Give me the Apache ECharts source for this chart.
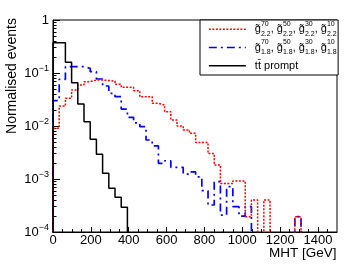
<!DOCTYPE html>
<html><head><meta charset="utf-8">
<script src="https://cdn.jsdelivr.net/npm/echarts@6/dist/echarts.min.js"></script>
<style>html,body{margin:0;padding:0;background:#fff}#c{width:355px;height:265px}</style>
</head><body><div id="c"></div>
<script>
// ---- data ----
const binWidth = 32.75;           // GeV per histogram bin
const xMin = 0, xMax = 1500, xStep = 200, xMinorStep = 50;
const yMin = 1e-4, yMax = 1;

// g~ width 2.2 (red dotted), one value per bin starting at 0 GeV
const redValues = [0.00905, 0.0238, 0.0333, 0.0478, 0.0594, 0.0685, 0.0738, 0.0738, 0.0722, 0.0706,
  0.0612, 0.0537, 0.0537, 0.0464, 0.0357, 0.0357, 0.0268, 0.0249, 0.0186, 0.0130,
  0.0100, 0.00841, 0.00728, 0.00489, 0.00489, 0.00303, 0.00184, 0.000822, 0.000822, 0.000917,
  0.000917, 0.000195, 0.000402, 0, 0.000402, 0, 0, 0, 0, 0.000195,
  0, 0, 0, 0, 0, 0];
// g~ width 1.8 (blue dash-dot)
const blueValues = [0.0300, 0.0760, 0.1315, 0.1315, 0.1315, 0.1227, 0.1058, 0.0771, 0.0568, 0.0414,
  0.0357, 0.0209, 0.0146, 0.0115, 0.0097, 0.00544, 0.0042, 0.00198, 0.00221, 0.00166,
  0.00166, 0.00124, 0.00136, 0.0011, 0.000601, 0.000323, 0.000889, 0.000209, 0.000716, 0.0003,
  0.0002, 0.0003, 0, 0, 0, 0, 0, 0, 0, 0.000195,
  0, 0, 0, 0, 0, 0];
// ttbar prompt (black solid)
const blackValues = [0.373, 0.373, 0.159, 0.0656, 0.026, 0.01205, 0.00561, 0.00292, 0.00128, 0.000668,
  0.000452, 0.000292];

const gluinoMasses = ['70', '50', '30', '10'];
const gluinoWidths = ['2.2', '1.8'];
const seriesNames = ['gluino22', 'gluino18', 'ttbar'];
const xTitle = 'MHT [GeV]';
const yTitle = 'Normalised events';

// ---- build ----
const FONT = '"Liberation Sans", Arial, Helvetica, sans-serif';
const FLOOR = 1e-6;
function histogramPoints(values) {
  const pts = [[0, FLOOR]];
  values.forEach((v, i) => pts.push([(i + 1) * binWidth, v > 0 ? v : FLOOR]));
  pts.push([values.length * binWidth, FLOOR]);
  return pts;
}
function gluinoLabel(w) {
  return '{pad| }' + gluinoMasses.map(m => '{g|g\u0303}{sup|' + m + '}{sub|' + w + '}').join('{g|, }');
}
const legendLabels = {
  gluino22: gluinoLabel(gluinoWidths[0]),
  gluino18: gluinoLabel(gluinoWidths[1]),
  ttbar: '{pad| }tt\u0304 prompt'
};
const yMinorTicks = [];
for (let d = -4; d < 0; d++) for (let m = 2; m <= 9; m++) yMinorTicks.push(+(m * Math.pow(10, d)).toPrecision(3));
const xMinorTicks = [];
for (let v = xMin + xMinorStep; v < xMax; v += xMinorStep) if (v % xStep !== 0) xMinorTicks.push(v);

const chart = echarts.init(document.getElementById('c'), null, {renderer: 'canvas'});
const lineBase = {type: 'line', step: 'start', showSymbol: false, symbol: 'none', clip: true, silent: true, animation: false, xAxisIndex: 0, yAxisIndex: 0};
chart.setOption({
  animation: false,
  grid: {left: 53, right: 18, top: 20, bottom: 33, show: true, borderColor: '#000', borderWidth: 1, containLabel: false},
  xAxis: [
    {type: 'value', min: xMin, max: xMax, interval: xStep, position: 'bottom',
     axisLine: {lineStyle: {color: '#000', width: 1}},
     axisTick: {inside: true, length: 5, lineStyle: {color: '#000'}},
     axisLabel: {color: '#000', fontSize: 13, fontFamily: FONT, margin: 2, showMaxLabel: false, formatter: v => String(v)},
     splitLine: {show: false}},
    {type: 'value', min: xMin, max: xMax, position: 'bottom',
     axisLine: {show: false}, axisLabel: {show: false}, splitLine: {show: false},
     axisTick: {inside: true, length: 3, customValues: xMinorTicks, lineStyle: {color: '#000'}}}
  ],
  yAxis: [
    {type: 'log', logBase: 10, min: yMin, max: yMax, position: 'left',
     axisLine: {show: true, lineStyle: {color: '#000', width: 1}},
     axisTick: {inside: true, length: 7, lineStyle: {color: '#000'}},
     axisLabel: {color: '#000', fontSize: 13, fontFamily: FONT, margin: 4, lineHeight: 18,
       formatter: v => { const e = Math.round(Math.log10(v)); return e === 0 ? '1' : '10{s|\u2212' + (-e) + '}'; },
       rich: {s: {fontSize: 9, lineHeight: 9, verticalAlign: 'top', fontFamily: FONT, color: '#000'}}},
     splitLine: {show: false}},
    {type: 'log', logBase: 10, min: yMin, max: yMax, position: 'left',
     axisLine: {show: false}, axisLabel: {show: false}, splitLine: {show: false},
     axisTick: {inside: true, length: 3.5, customValues: yMinorTicks, lineStyle: {color: '#000'}}}
  ],
  legend: {
    orient: 'vertical', left: 200, top: 20,
    padding: [0.7, 1.5, 0.7, 8],
    itemWidth: 37, itemHeight: 14, itemGap: 1.3,
    borderColor: '#000', borderWidth: 1, backgroundColor: '#fff', borderRadius: 0,
    selectedMode: false,
    data: seriesNames,
    formatter: name => legendLabels[name],
    itemStyle: {opacity: 0},
    lineStyle: {width: 'inherit'},
    textStyle: {fontSize: 11, lineHeight: 17, color: '#000', fontFamily: FONT,
      rich: {
        pad: {width: 4, fontSize: 11, lineHeight: 17, fontFamily: FONT},
        g: {fontSize: 11, lineHeight: 17, color: '#000', fontFamily: FONT},
        sup: {fontSize: 7, lineHeight: 8, verticalAlign: 'top', width: 0.01, color: '#000', fontFamily: FONT},
        sub: {fontSize: 7, lineHeight: 8, verticalAlign: 'bottom', color: '#000', fontFamily: FONT}
      }}
  },
  graphic: [
    {type: 'text', x: 336.5, y: 253, silent: true,
     style: {text: xTitle, align: 'right', verticalAlign: 'middle', textAlign: 'right', textVerticalAlign: 'middle', font: '13.5px ' + FONT, fill: '#000'}},
    {type: 'text', x: 12, y: 18, rotation: Math.PI / 2, silent: true,
     style: {text: yTitle, align: 'right', verticalAlign: 'middle', textAlign: 'right', textVerticalAlign: 'middle', font: '14px ' + FONT, fill: '#000'}}
  ],
  series: [
    Object.assign({}, lineBase, {name: seriesNames[1], data: histogramPoints(blueValues), z: 2,
      lineStyle: {color: '#0000ff', width: 1.7, type: [8, 4, 2, 4]}, itemStyle: {color: '#0000ff'}}),
    Object.assign({}, lineBase, {name: seriesNames[0], data: histogramPoints(redValues), z: 3,
      lineStyle: {color: '#ff0000', width: 1.5, type: [2, 1.5]}, itemStyle: {color: '#ff0000'}}),
    Object.assign({}, lineBase, {name: seriesNames[2], data: histogramPoints(blackValues), z: 4,
      lineStyle: {color: '#000000', width: 1.5, type: 'solid'}, itemStyle: {color: '#000000'}})
  ]
});
</script></body></html>
